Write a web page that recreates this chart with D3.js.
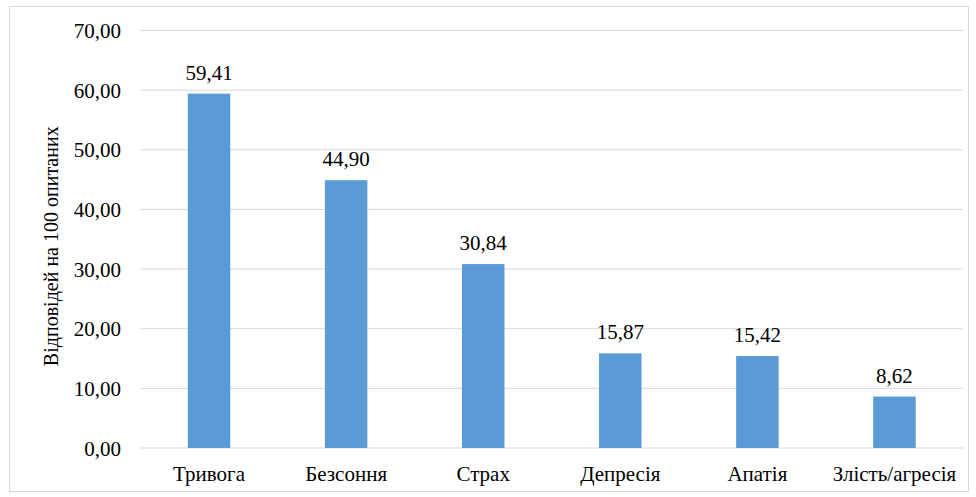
<!DOCTYPE html>
<html><head><meta charset="utf-8"><script src="https://cdn.jsdelivr.net/npm/d3@7"></script></head>
<body style="margin:0;background:#fff">
<svg id="chart" width="976" height="497"></svg>
<script>
// Symptoms reported, responses per 100 respondents
const categories = ["Тривога", "Безсоння", "Страх", "Депресія", "Апатія", "Злість/агресія"];
const values = [59.41, 44.90, 30.84, 15.87, 15.42, 8.62];
const yTicks = [0, 10, 20, 30, 40, 50, 60, 70];
const yTitle = "Відповідей на 100 опитаних";

const svg = d3.select("#chart");
const W = 976, H = 497;
const plotL = 140.5, plotR = W - 13, plotT = 30.5, plotB = H - 49;
const FONT = "Liberation Serif";

svg.append("rect")
  .attr("x", 9.5).attr("y", 6.5).attr("width", W - 17).attr("height", H - 12)
  .attr("fill", "#fff").attr("stroke", "#d9d9d9");

const x = d3.scaleBand().domain(categories).range([plotL, plotR]);
const y = d3.scaleLinear().domain([0, 70]).range([plotB, plotT]);
const fmt = v => d3.format(".2f")(v).replace(".", ",");

// gridlines
svg.append("g").selectAll("line").data(yTicks).join("line")
  .attr("x1", plotL).attr("x2", plotR)
  .attr("y1", d => y(d)).attr("y2", d => y(d))
  .attr("stroke", "#d9d9d9");

// tick labels
svg.append("g").selectAll("text").data(yTicks).join("text")
  .attr("x", 121).attr("y", d => y(d) + 7.5)
  .attr("text-anchor", "end")
  .attr("font-family", FONT).attr("font-size", 21)
  .text(fmt);

// bars
const barW = x.bandwidth() * 0.31;
svg.append("g").selectAll("rect").data(values).join("rect")
  .attr("x", (d, i) => x(categories[i]) + (x.bandwidth() - barW) / 2)
  .attr("y", d => y(d))
  .attr("width", barW)
  .attr("height", d => y(0) - y(d))
  .attr("fill", "#5b9bd5");

// value labels
svg.append("g").selectAll("text").data(values).join("text")
  .attr("x", (d, i) => x(categories[i]) + x.bandwidth() / 2)
  .attr("y", d => y(d) - 14)
  .attr("text-anchor", "middle")
  .attr("font-family", FONT).attr("font-size", 21)
  .text(fmt);

// category labels
svg.append("g").selectAll("text").data(categories).join("text")
  .attr("x", d => x(d) + x.bandwidth() / 2)
  .attr("y", plotB + 33)
  .attr("text-anchor", "middle")
  .attr("font-family", FONT).attr("font-size", 21)
  .text(d => d);

// y axis title
svg.append("text")
  .attr("transform", `translate(58,${(plotT + plotB) / 2 + 7}) rotate(-90)`)
  .attr("text-anchor", "middle")
  .attr("font-family", FONT).attr("font-size", 20)
  .text(yTitle);
</script>
</body></html>
